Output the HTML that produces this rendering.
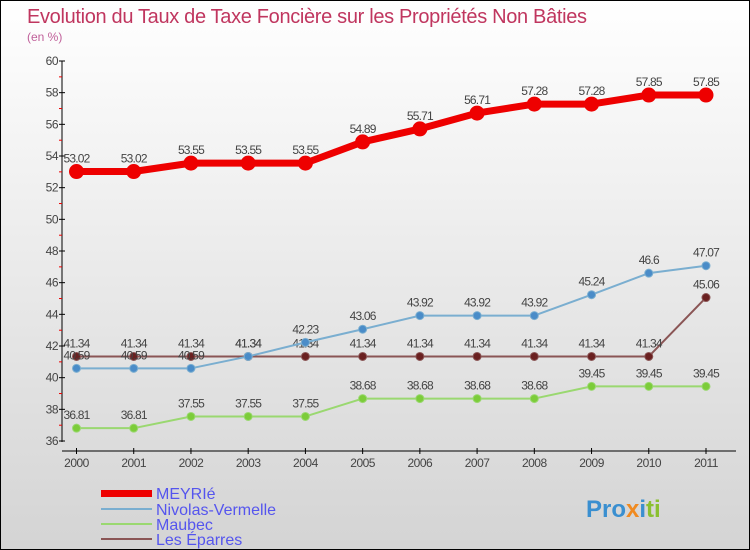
<!DOCTYPE html>
<html><head><meta charset="utf-8"><style>
body{margin:0}
#c{width:748px;height:548px;border:1px solid #000;background:linear-gradient(#fff,#d4d4d4);position:relative;font-family:"Liberation Sans","DejaVu Sans",sans-serif;overflow:hidden}
</style></head><body>
<div id="c">
<svg id="s" width="748" height="548" style="position:absolute;left:0;top:0">
<text x="26" y="22" font-size="20" fill="#c0365f" textLength="560">Evolution du Taux de Taxe Foncière sur les Propriétés Non Bâties</text>
<text x="26" y="40" font-size="12" fill="#c0609a">(en %)</text>
<g id="axes"></g><g id="series"></g>
<g font-size="16" fill="#5555ee">
<rect x="100" y="489" width="51" height="7" fill="#e00"/>
<text x="155" y="498">MEYRIé</text>
<rect x="100" y="507" width="51" height="2" fill="#7aaed0"/>
<text x="155" y="514">Nivolas-Vermelle</text>
<rect x="100" y="522" width="51" height="2" fill="#9ad870"/>
<text x="155" y="529">Maubec</text>
<rect x="100" y="537" width="51" height="2" fill="#8a5555"/>
<text x="155" y="544">Les Éparres</text>
</g>
<text x="585" y="516" font-size="24" font-weight="bold"><tspan fill="#3a8fd0">Pro</tspan><tspan fill="#f08a20">x</tspan><tspan fill="#3a8fd0">i</tspan><tspan fill="#8ac030">ti</tspan></text>
</svg>
</div>
<script>
const years=[2000,2001,2002,2003,2004,2005,2006,2007,2008,2009,2010,2011];
const yTicks=[36,38,40,42,44,46,48,50,52,54,56,58,60];
const meyrie=[53.02,53.02,53.55,53.55,53.55,54.89,55.71,56.71,57.28,57.28,57.85,57.85];
const nivolas=[40.59,40.59,40.59,41.34,42.23,43.06,43.92,43.92,43.92,45.24,46.6,47.07];
const maubec=[36.81,36.81,37.55,37.55,37.55,38.68,38.68,38.68,38.68,39.45,39.45,39.45];
const eparres=[41.34,41.34,41.34,41.34,41.34,41.34,41.34,41.34,41.34,41.34,41.34,45.06];
const NS='http://www.w3.org/2000/svg';
const X=i=>75.5+i*(705-75.5)/(years.length-1);
const Y=v=>440-(v-36)*(380/24);
function mk(t,a,p){const e=document.createElementNS(NS,t);for(const k in a)e.setAttribute(k,a[k]);p.appendChild(e);return e;}
const ax=document.getElementById('axes');
let e=mk('line',{x1:61,y1:60,x2:61,y2:441,stroke:'#000','stroke-width':1},ax);


e=mk('line',{x1:61,y1:450,x2:735,y2:450,stroke:'#000','stroke-width':1},ax);


yTicks.forEach(v=>{const y=Y(v);
mk('line',{x1:58,y1:y,x2:64,y2:y,stroke:'#000'},ax);
if(v<60)mk('line',{x1:58,y1:y-15.8,x2:61,y2:y-15.8,stroke:'#e00'},ax);
const t=mk('text',{x:57,y:y+4,'font-size':12,fill:'#444','text-anchor':'end','letter-spacing':'-0.5'},ax);t.textContent=v;

});
years.forEach((yr,i)=>{const x=X(i);
mk('line',{x1:x,y1:447,x2:x,y2:453,stroke:'#000'},ax);
const t=mk('text',{x:x,y:466,'font-size':12,fill:'#444','text-anchor':'middle','letter-spacing':'-0.5'},ax);t.textContent=yr;

});
const sg=document.getElementById('series');
function series(d,name,col,w,r,dot){
const g=mk('g',{},sg);


const p=mk('polyline',{points:d.map((v,i)=>X(i)+','+Y(v)).join(' '),fill:'none',stroke:col,'stroke-width':w,'stroke-linejoin':'round'},g);


d.forEach((v,i)=>{const c=mk('circle',{cx:X(i),cy:Y(v),r:r,fill:dot,stroke:col,'stroke-width':1},g);


const t=mk('text',{x:X(i),y:Y(v)-9,'font-size':12,fill:'#444','text-anchor':'middle','letter-spacing':'-0.8'},g);t.textContent=v;

});
}
series(maubec,'maubec','#9ad870',2,4,'#7ccc3a');
series(eparres,'eparres','#8a5555',2,4,'#6a2020');
series(nivolas,'nivolas','#7aaed0',2,4,'#4a8cc8');
series(meyrie,'meyrie','#e00',7,7,'#e00');
</script>
</body></html>
